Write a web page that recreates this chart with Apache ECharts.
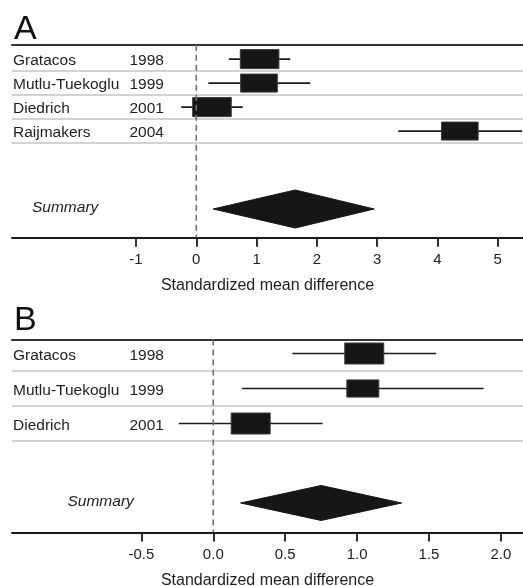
<!DOCTYPE html>
<html>
<head>
<meta charset="utf-8">
<script src="https://cdn.jsdelivr.net/npm/echarts@6/dist/echarts.min.js"></script>
<style>
  html, body { margin: 0; padding: 0; background: #fff; }
  #chart { width: 523px; height: 586px; }
</style>
</head>
<body>
<div id="chart"></div>
<script>
  // panel A
  const studiesA = ['Gratacos', 'Mutlu-Tuekoglu', 'Diedrich', 'Raijmakers'];
  const yearsA = ['1998', '1999', '2001', '2004'];
  const smdA = [1.05, 1.04, 0.26, 4.37];
  const lowerA = [0.54, 0.20, -0.25, 3.35];
  const upperA = [1.56, 1.89, 0.77, 5.40];
  const weightA = [1.0, 0.95, 1.0, 0.95];
  const summaryA = [0.28, 1.64, 2.95]; // lower, estimate, upper
  const ticksA = [-1, 0, 1, 2, 3, 4, 5];

  // panel B
  const studiesB = ['Gratacos', 'Mutlu-Tuekoglu', 'Diedrich'];
  const yearsB = ['1998', '1999', '2001'];
  const smdB = [1.05, 1.04, 0.26];
  const lowerB = [0.55, 0.20, -0.24];
  const upperB = [1.55, 1.88, 0.76];
  const weightB = [1.0, 0.82, 1.0];
  const summaryB = [0.19, 0.75, 1.31];
  const ticksB = [-0.5, 0, 0.5, 1.0, 1.5, 2.0];

  const FONT = '"Liberation Sans", Arial, sans-serif';
  const TXT = '#1e1e1e';

  const chart = echarts.init(document.getElementById('chart'));

  // layout of each panel (pixels / axis ranges)
  const panels = [
    {
      label: 'A', labelTop: 8, top: 44.7, xMin: -3.056, xMax: 5.418, yMin: -0.6, yMax: 7.442,
      summaryRow: 6.246, boxW: 19.3, boxH: 9.5, diamondH: 19, summaryX: 32, digits: 0,
      studies: studiesA, years: yearsA, smd: smdA, lower: lowerA, upper: upperA,
      weight: weightA, summary: summaryA, ticks: ticksA
    },
    {
      label: 'B', labelTop: 299, top: 339.5, xMin: -1.4, xMax: 2.154, yMin: -0.4, yMax: 5.114,
      summaryRow: 4.271, boxW: 19.5, boxH: 10.5, diamondH: 17.5, summaryX: 67.5, digits: 1,
      studies: studiesB, years: yearsB, smd: smdB, lower: lowerB, upper: upperB,
      weight: weightB, summary: summaryB, ticks: ticksB
    }
  ];

  const grid = [], xAxis = [], yAxis = [], series = [], title = [];

  panels.forEach((p, i) => {
    grid.push({ left: 12, right: 0, top: p.top, height: 193, containLabel: false, outerBoundsMode: 'none' });
    title.push({
      text: p.label, left: 9, top: p.labelTop,
      textStyle: { fontFamily: FONT, fontSize: 34, fontWeight: 'normal', color: '#111' }
    });
    // bottom axis
    xAxis.push({
      type: 'value', gridIndex: i, min: p.xMin, max: p.xMax, position: 'bottom',
      name: 'Standardized mean difference', nameLocation: 'middle', nameGap: 40,
      nameTextStyle: { fontFamily: FONT, fontSize: 16, color: TXT },
      axisLine: { show: true, onZero: false, lineStyle: { color: '#1a1a1a', width: 1.8 } },
      axisTick: { show: true, length: 9, customValues: p.ticks, lineStyle: { color: '#1a1a1a', width: 1.8 } },
      axisLabel: {
        show: true, customValues: p.ticks, margin: 15,
        fontFamily: FONT, fontSize: 15, color: TXT,
        formatter: v => v.toFixed(p.digits)
      },
      splitLine: { show: false }
    });
    // top rule
    xAxis.push({
      type: 'value', gridIndex: i, min: p.xMin, max: p.xMax, position: 'top',
      axisLine: { show: true, onZero: false, lineStyle: { color: '#333', width: 2 } },
      axisTick: { show: false }, axisLabel: { show: false }, splitLine: { show: false }
    });
    yAxis.push({ type: 'value', gridIndex: i, inverse: true, min: p.yMin, max: p.yMax, show: false });

    const xi = i * 2;

    // row separators + study names/years
    series.push({
      type: 'custom', xAxisIndex: xi, yAxisIndex: i, silent: true,
      data: p.studies.map((s, k) => [k]),
      renderItem: (params, api) => {
        const k = params.dataIndex;
        const cs = params.coordSys;
        const c = api.coord([0, k]);
        const sep = api.coord([0, k + 0.5]);
        return {
          type: 'group',
          children: [
            { type: 'line', shape: { x1: cs.x, y1: sep[1], x2: cs.x + cs.width, y2: sep[1] },
              style: { stroke: '#c4c4c4', lineWidth: 1.5 } },
            { type: 'text', x: cs.x + 1, y: c[1] + 2,
              style: { text: p.studies[k], fontFamily: FONT, fontSize: 15.5, fill: TXT, verticalAlign: 'middle' } },
            { type: 'text', x: cs.x + 117.5, y: c[1] + 2,
              style: { text: p.years[k], fontFamily: FONT, fontSize: 15.5, fill: TXT, verticalAlign: 'middle' } }
          ]
        };
      }
    });

    // null line
    series.push({
      type: 'line', xAxisIndex: xi, yAxisIndex: i, silent: true, symbol: 'none',
      data: [[0, p.yMin], [0, p.yMax]],
      lineStyle: { color: '#6e6e6e', width: 1.6, type: [6, 4] }
    });

    // study effects: whisker + box
    series.push({
      type: 'custom', xAxisIndex: xi, yAxisIndex: i, silent: true, clip: true,
      data: p.smd.map((v, k) => [k, v, p.lower[k], p.upper[k], p.weight[k]]),
      renderItem: (params, api) => {
        const row = api.value(0);
        const c = api.coord([api.value(1), row]);
        const lo = api.coord([api.value(2), row]);
        const hi = api.coord([api.value(3), row]);
        const w = api.value(4);
        const hw = p.boxW * w, hh = p.boxH * w;
        return {
          type: 'group',
          children: [
            { type: 'line', shape: { x1: lo[0], y1: lo[1], x2: hi[0], y2: hi[1] },
              style: { stroke: '#1c1c1c', lineWidth: 1.6 } },
            { type: 'rect', shape: { x: c[0] - hw, y: c[1] - hh, width: 2 * hw, height: 2 * hh },
              style: { fill: '#161616', stroke: '#3a3a3a', lineWidth: 1 } }
          ]
        };
      }
    });

    // summary diamond
    series.push({
      type: 'custom', xAxisIndex: xi, yAxisIndex: i, silent: true,
      data: [[p.summaryRow, p.summary[0], p.summary[1], p.summary[2]]],
      renderItem: (params, api) => {
        const row = api.value(0);
        const lo = api.coord([api.value(1), row]);
        const est = api.coord([api.value(2), row]);
        const hi = api.coord([api.value(3), row]);
        const h = p.diamondH;
        return {
          type: 'group',
          children: [
            { type: 'polygon',
              shape: { points: [[lo[0], lo[1]], [est[0], est[1] - h], [hi[0], hi[1]], [est[0], est[1] + h]] },
              style: { fill: '#161616', stroke: '#161616', lineWidth: 1 } },
            { type: 'text', x: params.coordSys.x + p.summaryX - 12, y: est[1] - 1,
              style: { text: 'Summary', fontFamily: FONT, fontSize: 15.5, fontStyle: 'italic',
                       fill: TXT, verticalAlign: 'middle' } }
          ]
        };
      }
    });
  });

  chart.setOption({
    animation: false,
    backgroundColor: '#fff',
    title: title,
    grid: grid,
    xAxis: xAxis,
    yAxis: yAxis,
    series: series
  });
</script>
</body>
</html>
